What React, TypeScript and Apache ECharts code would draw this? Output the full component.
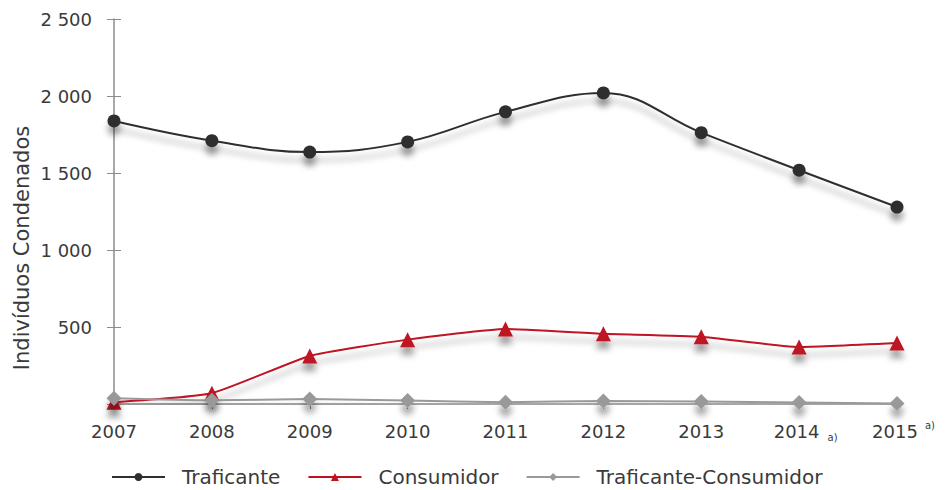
import React, { useEffect, useRef } from "react";
import * as echarts from "echarts";

const years = ["2007", "2008", "2009", "2010", "2011", "2012", "2013", "2014", "2015"];
const yearNotes = ["", "", "", "", "", "", "", "low", "high"];
const traficante = [1838, 1710, 1636, 1702, 1897, 2020, 1762, 1518, 1279];
const consumidor = [12, 70, 312, 418, 487, 456, 437, 370, 396];
const traficanteConsumidor = [38, 24, 32, 22, 12, 20, 16, 9, 3];
const yTicks = [0, 500, 1000, 1500, 2000, 2500];
const yAxisTitle = "Indivíduos Condenados";

const FONT = "'DejaVu Sans', sans-serif";
const TEXT = "#3a3a3a";
const shadow = { shadowColor: "rgba(0,0,0,0.35)", shadowBlur: 6, shadowOffsetY: 8 };

export default function App() {
  const ref = useRef<HTMLDivElement>(null);
  useEffect(() => {
    const chart = echarts.init(ref.current!, null, { renderer: "svg" });
    const fmtY = (v: number) =>
      v === 0 ? "" : String(v).replace(/\B(?=(\d{3})+(?!\d))/g, " ");
    const line = (name: string, data: number[], color: string, symbol: string, size: number, smooth: number | boolean) => ({
      name,
      type: "line",
      data,
      smooth,
      symbol,
      symbolSize: size,
      lineStyle: { color, width: 2, ...shadow },
      itemStyle: { color, ...shadow },
    });
    chart.setOption({
      animation: false,
      grid: { left: 114, right: 49, top: 19, bottom: 86 },
      graphic: [
        {
          type: "text",
          x: 22,
          y: 248,
          rotation: Math.PI / 2,
          style: {
            text: yAxisTitle,
            fontFamily: FONT,
            fontSize: 21,
            fill: TEXT,
            align: "center",
            verticalAlign: "middle",
          },
        },
      ],
      legend: {
        left: 106,
        top: 462,
        itemWidth: 53,
        itemHeight: 10,
        itemGap: 27,
        textStyle: { fontFamily: FONT, fontSize: 20, color: TEXT, padding: [0, 0, 0, 12] },
        data: ["Traficante", "Consumidor", "Traficante-Consumidor"],
      },
      xAxis: {
        type: "category",
        data: years,
        boundaryGap: false,
        axisLine: { lineStyle: { color: "#8c8c8c", width: 1.5 } },
        axisTick: { length: 5, lineStyle: { color: "#8c8c8c" } },
        axisLabel: {
          interval: 0,
          margin: 16,
          fontFamily: FONT,
          fontSize: 18,
          color: TEXT,
          formatter: (v: string, i: number) => {
            const n = yearNotes[i];
            if (!n) return `{y|${v}}`;
            return `{s|}{y|${v}}{${n}|a)}`;
          },
          rich: {
            s: { width: 16, lineHeight: 22 },
            y: { fontFamily: FONT, fontSize: 18, color: TEXT, lineHeight: 22 },
            low: { width: 16, fontFamily: FONT, fontSize: 10, color: TEXT, padding: [0, 0, 0, 5], lineHeight: 16, verticalAlign: "bottom" },
            high: { width: 16, fontFamily: FONT, fontSize: 10, color: TEXT, padding: [0, 0, 0, 4], lineHeight: 14, verticalAlign: "top" },
          },
        },
      },
      yAxis: [
        {
          type: "value",
          min: yTicks[0],
          max: yTicks[yTicks.length - 1],
          interval: 500,
          axisLine: { show: true, lineStyle: { color: "#8c8c8c", width: 1.5 } },
          axisTick: { show: true, length: 7, lineStyle: { color: "#8c8c8c" } },
          splitLine: { show: false },
          axisLabel: { margin: 22, fontFamily: FONT, fontSize: 18, color: TEXT, formatter: fmtY },
        },
        {
          type: "value",
          position: "left",
          min: yTicks[0],
          max: yTicks[yTicks.length - 1],
          interval: 500,
          axisLine: { show: false },
          axisTick: { show: true, inside: true, length: 7, lineStyle: { color: "#8c8c8c" } },
          axisLabel: { show: false },
          splitLine: { show: false },
        },
      ],
      series: [
        line("Traficante", traficante, "#2f2f2f", "circle", 13, 0.4),
        line("Consumidor", consumidor, "#be1220", "triangle", 15, 0.15),
        line("Traficante-Consumidor", traficanteConsumidor, "#999999", "diamond", 15, 0.15),
      ],
    });
    return () => chart.dispose();
  }, []);
  return (
    <div
      ref={ref}
      style={{ position: "fixed", left: 0, top: 0, width: 946, height: 490, background: "#fff" }}
    />
  );
}
